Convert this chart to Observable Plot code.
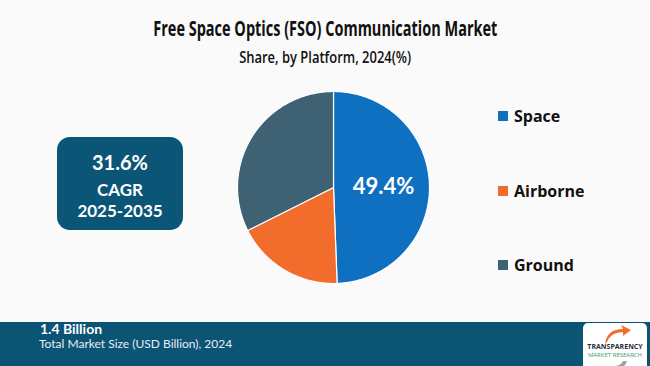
<!DOCTYPE html>
<html>
<head>
<meta charset="utf-8">
<script src="https://cdn.jsdelivr.net/npm/d3@7"></script>
<script src="https://cdn.jsdelivr.net/npm/@observablehq/plot@0.6"></script>
<style>
  html, body { margin: 0; padding: 0; background: #fafafa; }
  #wrap { position: relative; width: 650px; height: 366px; overflow: hidden; background: #fafafa; font-family: "Open Sans", sans-serif; }
  .abs { position: absolute; white-space: nowrap; }
  #title { left: 0; width: 650px; top: 14px; text-align: center; font-weight: 700; font-size: 21.5px; color: #111; line-height: 28px; }
  #subtitle { left: 0; width: 650px; top: 46px; text-align: center; font-weight: 600; font-size: 16px; color: #111; line-height: 22px; }
  #cagr { left: 57px; top: 137px; width: 126px; height: 93px; background: #0b5576; border-radius: 13px; color: #fff; font-family: Lato, sans-serif; font-weight: 700; text-align: center; }
  #cagr div { position: absolute; left: 0; width: 126px; }
  #pie { left: 233px; top: 87px; }
  .leg { left: 498px; font-weight: 700; font-size: 16px; color: #111; }
  .leg span.sw { display: inline-block; width: 10px; height: 10px; margin-right: 6px; vertical-align: middle; position: relative; top: -2px; }
  #band { left: 0; top: 322px; width: 650px; height: 44px; background: #0b5474; }
  #big { left: 40px; top: 320px; color: #fff; font-family: Lato, sans-serif; font-weight: 700; font-size: 14px; }
  #small { left: 39px; top: 336px; color: #e8eef2; font-family: Lato, sans-serif; font-size: 12px; }
  #logo { left: 583px; top: 323px; width: 64px; height: 48px; background: #fff; border-radius: 5px; }
</style>
</head>
<body>
<div id="wrap">
  <div id="title" class="abs">Free Space Optics (FSO) Communication Market</div>
  <div id="subtitle" class="abs">Share, by Platform, 2024(%)</div>
  <div id="cagr" class="abs">
    <div style="top:13px;font-size:20px;">31.6%</div>
    <div style="top:42px;font-size:17px;">CAGR</div>
    <div style="top:63px;font-size:17px;">2025-2035</div>
  </div>
  <div id="pie" class="abs"></div>
  <div id="legend"></div>
  <div id="band" class="abs"></div>
  <div id="big" class="abs">1.4 Billion</div>
  <div id="small" class="abs">Total Market Size (USD Billion), 2024</div>
  <div id="logo" class="abs">
    <svg width="64" height="48">
      <path d="M22 21 Q24 6 40 6 L38 2 L48 7 L40 13 L40 9 Q28 9 24 19 Z" fill="#f26c2c"/>
      <path d="M44 38 Q42 46 30 46 L30 43 Q38 43 40 38 Z" fill="#9aa4aa"/>
      <text x="32" y="26" text-anchor="middle" font-family="Open Sans" font-weight="700" font-size="7" fill="#1f2f3f">TRANSPARENCY</text>
      <text x="32" y="33.5" text-anchor="middle" font-family="Open Sans" font-size="6" fill="#3a9a6a">MARKET RESEARCH</text>
    </svg>
  </div>
</div>
<script>
const platforms = ["Space", "Airborne", "Ground"];
const shares = [49.4, 18.2, 32.4];
const colors = ["#0f70c1", "#f26c2c", "#3e6274"];
const labeledPlatforms = ["Space"];

const arcs = d3.pie().sort(null)(shares);
const pts = [];
arcs.forEach((a, i) => {
  const name = platforms[i];
  pts.push({name, x: 0, y: 0});
  const n = Math.max(2, Math.ceil((a.endAngle - a.startAngle) / 0.01));
  for (let k = 0; k <= n; k++) {
    const t = a.startAngle + (a.endAngle - a.startAngle) * k / n;
    pts.push({name, x: Math.sin(t), y: Math.cos(t)});
  }
  pts.push({name, x: 0, y: 0});
});
const labels = arcs.map((a, i) => {
  const m = (a.startAngle + a.endAngle) / 2;
  return {name: platforms[i], x: 0.52 * Math.sin(m), y: 0.52 * Math.cos(m), text: shares[i].toFixed(1) + "%"};
}).filter(d => labeledPlatforms.includes(d.name));

const chart = Plot.plot({
  width: 200, height: 200,
  margin: 4,
  x: {domain: [-1, 1], axis: null},
  y: {domain: [-1, 1], axis: null},
  color: {domain: platforms, range: colors},
  style: {background: "transparent", overflow: "visible"},
  marks: [
    Plot.line(pts, {x: "x", y: "y", z: "name", fill: "name", stroke: "#ffffff", strokeWidth: 1.2, curve: "linear"}),
    Plot.text(labels, {x: "x", y: "y", text: "text", fill: "white", fontSize: 22, fontWeight: "bold", fontFamily: "Lato, sans-serif"})
  ]
});
document.getElementById("pie").appendChild(chart);

const legendTops = [105, 180, 254];
const legend = document.getElementById("legend");
platforms.forEach((p, i) => {
  const d = document.createElement("div");
  d.className = "abs leg";
  d.style.top = legendTops[i] + "px";
  d.innerHTML = `<span class="sw" style="background:${colors[i]}"></span>${p}`;
  legend.appendChild(d);
});

function fitWidth(id, w) {
  const el = document.getElementById(id);
  const span = document.createElement("span");
  span.textContent = el.textContent;
  el.textContent = "";
  span.style.display = "inline-block";
  el.appendChild(span);
  const cw = span.getBoundingClientRect().width;
  span.style.transform = `scaleX(${w / cw})`;
}
fitWidth("title", 344);
fitWidth("subtitle", 172);
</script>
</body>
</html>
